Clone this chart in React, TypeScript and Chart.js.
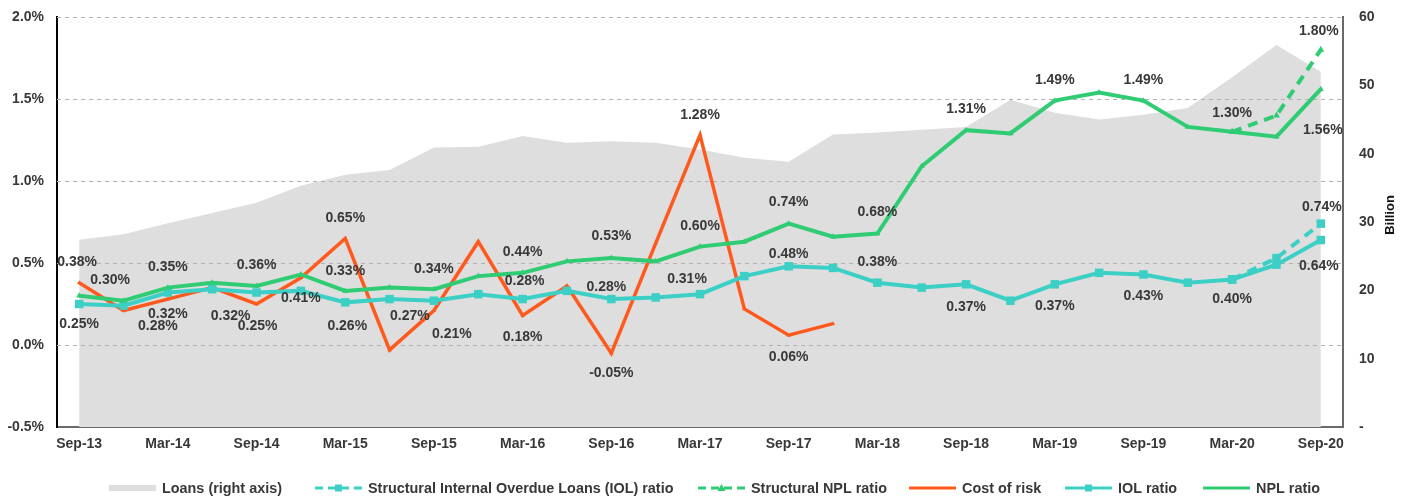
import React, { useEffect, useRef } from 'react';
import { Chart, registerables } from 'chart.js';

Chart.register(...registerables);

// ---------------- DATA ----------------
const quarters = [
  'Sep-13', 'Dec-13', 'Mar-14', 'Jun-14', 'Sep-14', 'Dec-14', 'Mar-15', 'Jun-15', 'Sep-15', 'Dec-15',
  'Mar-16', 'Jun-16', 'Sep-16', 'Dec-16', 'Mar-17', 'Jun-17', 'Sep-17', 'Dec-17', 'Mar-18', 'Jun-18',
  'Sep-18', 'Dec-18', 'Mar-19', 'Jun-19', 'Sep-19', 'Dec-19', 'Mar-20', 'Jun-20', 'Sep-20',
];

const shownTicks = [
  'Sep-13', 'Mar-14', 'Sep-14', 'Mar-15', 'Sep-15', 'Mar-16', 'Sep-16', 'Mar-17',
  'Sep-17', 'Mar-18', 'Sep-18', 'Mar-19', 'Sep-19', 'Mar-20', 'Sep-20',
];

// Loans, billion (right axis)
const loansBn = [
  27.4, 28.2, 29.8, 31.3, 32.8, 35.3, 36.9, 37.6, 40.9, 41.0,
  42.6, 41.6, 41.8, 41.6, 40.6, 39.4, 38.8, 42.8, 43.1, 43.5,
  43.9, 47.9, 46.0, 45.0, 45.7, 46.7, 51.2, 55.9, 52.0,
];

// NPL ratio, %
const nplRatio = [
  0.30, 0.27, 0.35, 0.38, 0.36, 0.43, 0.33, 0.35, 0.34, 0.42,
  0.44, 0.51, 0.53, 0.51, 0.60, 0.63, 0.74, 0.66, 0.68, 1.09,
  1.31, 1.29, 1.49, 1.54, 1.49, 1.33, 1.30, 1.27, 1.56,
];

// IOL ratio, %
const iolRatio = [
  0.25, 0.24, 0.32, 0.34, 0.32, 0.33, 0.26, 0.28, 0.27, 0.31,
  0.28, 0.33, 0.28, 0.29, 0.31, 0.42, 0.48, 0.47, 0.38, 0.35,
  0.37, 0.27, 0.37, 0.44, 0.43, 0.38, 0.40, 0.49, 0.64,
];

// Cost of risk, %
const costOfRisk = [
  0.38, 0.21, 0.28, 0.35, 0.25, 0.41, 0.65, -0.03, 0.21, 0.63,
  0.18, 0.36, -0.05, 0.62, 1.28, 0.22, 0.06, 0.13, null, null,
  null, null, null, null, null, null, null, null, null,
];

// Structural ratios, %
const structuralNpl = [
  null, null, null, null, null, null, null, null, null, null,
  null, null, null, null, null, null, null, null, null, null,
  null, null, null, null, null, null, 1.30, 1.40, 1.80,
];
const structuralIol = [
  null, null, null, null, null, null, null, null, null, null,
  null, null, null, null, null, null, null, null, null, null,
  null, null, null, null, null, null, 0.40, 0.53, 0.74,
];

const leftAxisTicks = [-0.5, 0, 0.5, 1.0, 1.5, 2.0];
const rightAxisTicks = [0, 10, 20, 30, 40, 50, 60];

// Indices that carry a value label, and label placement (dx, dy from the point)
const nplLabelAt = [0, 2, 4, 6, 8, 10, 12, 14, 16, 18, 20, 22, 24, 26, 28];
const nplLabelOffset = [
  [31, -16], [0, -20], [0, -21], [0, -20], [0, -20], [0, -21], [0, -22], [0, -20],
  [0, -21], [0, -21], [0, -21], [0, -20], [0, -20], [0, -19], [2, 41],
];
const iolLabelAt = [0, 2, 4, 6, 8, 10, 12, 14, 16, 18, 20, 22, 24, 26, 28];
const iolLabelOffset = [
  [0, 20], [0, 22], [-26, 24], [2, 24], [-24, 15], [2, -18], [-5, -12], [-13, -15],
  [0, -12], [0, -21], [0, 23], [0, 22], [0, 22], [0, 20], [-2, 26],
];
const corLabelAt = [0, 2, 4, 5, 6, 8, 10, 12, 14, 16];
const corLabelOffset = [
  [-2, -21], [-10, 27], [1, 22], [0, 20], [0, -20], [18, 24], [0, 22], [0, 20], [0, -20], [0, 22],
];
const sNplLabelAt = [28];
const sNplLabelOffset = [[-2, -19]];
const sIolLabelAt = [28];
const sIolLabelOffset = [[1, -16]];

// ---------------- STYLE ----------------
const GREEN = '#2fcc74';
const TEAL = '#3ccfc6';
const ORANGE = '#ff5a1e';
const GRAY_FILL = '#dedede';
const TEXT = '#383838';
const FONT = '"Liberation Sans", Arial, sans-serif';

const legendItems = [
  { text: 'Loans (right axis)', kind: 'area', color: GRAY_FILL, x: 109 },
  { text: 'Structural Internal Overdue Loans (IOL) ratio', kind: 'line', color: TEAL, dash: true, marker: 'rect', x: 315 },
  { text: 'Structural NPL ratio', kind: 'line', color: GREEN, dash: true, marker: 'tri', x: 698 },
  { text: 'Cost of risk', kind: 'line', color: ORANGE, dash: false, marker: null, x: 909 },
  { text: 'IOL ratio', kind: 'line', color: TEAL, dash: false, marker: 'rect', x: 1065 },
  { text: 'NPL ratio', kind: 'line', color: GREEN, dash: false, marker: null, x: 1203 },
];
const LEGEND_SWATCH_W = 47;

const fmtPct = (v: number) => v.toFixed(2) + '%';

const gridPlugin = {
  id: 'gridOverArea',
  afterDatasetDraw(chart: any, args: any) {
    if (args.index !== 0) return;
    const { ctx, chartArea } = chart;
    const y = chart.scales.y;
    ctx.save();
    ctx.strokeStyle = '#b2b2b2';
    ctx.lineWidth = 1;
    ctx.setLineDash([4, 4]);
    leftAxisTicks.forEach((t) => {
      if (t === leftAxisTicks[0]) return;
      const py = Math.round(y.getPixelForValue(t)) + 0.5;
      ctx.beginPath();
      ctx.moveTo(chartArea.left, py);
      ctx.lineTo(chartArea.right, py);
      ctx.stroke();
    });
    ctx.restore();
  },
};

const labelsPlugin = {
  id: 'valueLabels',
  afterDatasetsDraw(chart: any) {
    const { ctx } = chart;
    const groups = [
      { ds: 1, at: sIolLabelAt, off: sIolLabelOffset, values: structuralIol },
      { ds: 2, at: sNplLabelAt, off: sNplLabelOffset, values: structuralNpl },
      { ds: 3, at: corLabelAt, off: corLabelOffset, values: costOfRisk },
      { ds: 4, at: iolLabelAt, off: iolLabelOffset, values: iolRatio },
      { ds: 5, at: nplLabelAt, off: nplLabelOffset, values: nplRatio },
    ];
    ctx.save();
    ctx.font = `bold 14px ${FONT}`;
    ctx.fillStyle = TEXT;
    ctx.textAlign = 'center';
    ctx.textBaseline = 'middle';
    groups.forEach((g) => {
      const meta = chart.getDatasetMeta(g.ds);
      g.at.forEach((idx, k) => {
        const el = meta.data[idx];
        const v = g.values[idx];
        if (!el || v === null || v === undefined) return;
        ctx.fillText(fmtPct(v as number), el.x + g.off[k][0], el.y + g.off[k][1]);
      });
    });
    ctx.restore();
  },
};

const legendPlugin = {
  id: 'bottomLegend',
  afterDraw(chart: any) {
    const { ctx } = chart;
    const y = 488;
    ctx.save();
    legendItems.forEach((it) => {
      const w = LEGEND_SWATCH_W;
      if (it.kind === 'area') {
        ctx.fillStyle = it.color;
        ctx.fillRect(it.x, y - 3, w, 6);
      } else {
        ctx.strokeStyle = it.color;
        ctx.lineWidth = 3;
        ctx.setLineDash(it.dash ? [8, 5] : []);
        ctx.beginPath();
        ctx.moveTo(it.x, y);
        ctx.lineTo(it.x + w, y);
        ctx.stroke();
        ctx.setLineDash([]);
        const cx = it.x + w / 2;
        ctx.fillStyle = it.color;
        if (it.marker === 'rect') {
          ctx.fillRect(cx - 3.5, y - 3.5, 7, 7);
        } else if (it.marker === 'tri') {
          ctx.beginPath();
          ctx.moveTo(cx, y - 4);
          ctx.lineTo(cx + 4, y + 3);
          ctx.lineTo(cx - 4, y + 3);
          ctx.closePath();
          ctx.fill();
        }
      }
      ctx.font = `bold 14.4px ${FONT}`;
      ctx.fillStyle = TEXT;
      ctx.textAlign = 'left';
      ctx.textBaseline = 'middle';
      ctx.fillText(it.text, it.x + w + 6, y + 1);
    });
    // right axis title, reading bottom-to-top
    ctx.translate(1390, 215);
    ctx.rotate(-Math.PI / 2);
    ctx.font = `bold 13px ${FONT}`;
    ctx.textAlign = 'center';
    ctx.textBaseline = 'middle';
    ctx.fillStyle = '#111';
    ctx.fillText('Billion', 0, 0);
    ctx.restore();
  },
};

export default function App() {
  const canvasRef = useRef<HTMLCanvasElement | null>(null);

  useEffect(() => {
    document.body.style.margin = '0';
    const canvas = canvasRef.current;
    if (!canvas) return;
    const tickFont = { family: FONT, size: 14, weight: 'bold' as const };
    const hiddenTickGrid = (len: number) => ({
      display: true,
      drawOnChartArea: false,
      drawTicks: true,
      tickLength: len,
      color: 'rgba(0,0,0,0)',
    });

    const chart = new Chart(canvas, {
      type: 'line',
      data: {
        labels: quarters,
        datasets: [
          {
            label: 'Loans (right axis)',
            data: loansBn,
            yAxisID: 'y1',
            fill: 'origin',
            backgroundColor: GRAY_FILL,
            borderWidth: 0,
            borderColor: 'rgba(0,0,0,0)',
            pointRadius: 0,
            tension: 0,
            order: 10,
          },
          {
            label: 'Structural Internal Overdue Loans (IOL) ratio',
            data: structuralIol,
            yAxisID: 'y',
            borderColor: TEAL,
            backgroundColor: TEAL,
            borderWidth: 4,
            borderDash: [10, 7],
            pointStyle: 'rect',
            pointRadius: 6,
            pointBorderWidth: 0,
            fill: false,
            order: 5,
          },
          {
            label: 'Structural NPL ratio',
            data: structuralNpl,
            yAxisID: 'y',
            borderColor: GREEN,
            backgroundColor: GREEN,
            borderWidth: 4,
            borderDash: [10, 7],
            pointStyle: 'triangle',
            pointRadius: 4,
            pointBorderWidth: 0,
            fill: false,
            order: 4,
          },
          {
            label: 'Cost of risk',
            data: costOfRisk,
            yAxisID: 'y',
            borderColor: ORANGE,
            backgroundColor: ORANGE,
            borderWidth: 3.5,
            pointStyle: 'triangle',
            pointRadius: 2.5,
            pointBorderWidth: 0,
            fill: false,
            order: 3,
          },
          {
            label: 'IOL ratio',
            data: iolRatio,
            yAxisID: 'y',
            borderColor: TEAL,
            backgroundColor: TEAL,
            borderWidth: 4,
            pointStyle: 'rect',
            pointRadius: 6,
            pointBorderWidth: 0,
            fill: false,
            order: 2,
          },
          {
            label: 'NPL ratio',
            data: nplRatio,
            yAxisID: 'y',
            borderColor: GREEN,
            backgroundColor: GREEN,
            borderWidth: 4,
            pointStyle: 'triangle',
            pointRadius: 3.5,
            pointBorderWidth: 0,
            fill: false,
            order: 1,
          },
        ],
      },
      options: {
        responsive: false,
        animation: false,
        devicePixelRatio: 1,
        events: [],
        layout: { padding: { left: 0, right: 0, top: 17, bottom: 42 } },
        plugins: {
          legend: { display: false },
          tooltip: { enabled: false },
        },
        scales: {
          x: {
            type: 'category',
            offset: true,
            grid: { display: false, drawTicks: false },
            border: { display: true, color: '#6a6a6a', width: 2 },
            ticks: {
              autoSkip: false,
              maxRotation: 0,
              minRotation: 0,
              padding: 9,
              color: TEXT,
              font: tickFont,
              callback: (_v: any, i: number) => (shownTicks.includes(quarters[i]) ? quarters[i] : ''),
            },
            afterFit: (s: any) => { s.height = 30; },
          },
          y: {
            position: 'left',
            min: leftAxisTicks[0],
            max: leftAxisTicks[leftAxisTicks.length - 1],
            grid: hiddenTickGrid(13),
            border: { display: true, color: '#000', width: 2 },
            afterBuildTicks: (s: any) => { s.ticks = leftAxisTicks.map((v) => ({ value: v })); },
            ticks: {
              padding: 0,
              color: TEXT,
              font: tickFont,
              callback: (v: any) => Number(v).toFixed(1) + '%',
            },
            afterFit: (s: any) => { s.width = 57; },
          },
          y1: {
            position: 'right',
            min: rightAxisTicks[0],
            max: rightAxisTicks[rightAxisTicks.length - 1],
            grid: hiddenTickGrid(16),
            border: { display: true, color: '#6a6a6a', width: 2 },
            afterBuildTicks: (s: any) => { s.ticks = rightAxisTicks.map((v) => ({ value: v })); },
            ticks: {
              padding: 0,
              color: TEXT,
              font: tickFont,
              callback: (v: any) => (Number(v) === 0 ? '-' : String(v)),
            },
            afterFit: (s: any) => { s.width = 64; },
          },
        },
      } as any,
      plugins: [gridPlugin, labelsPlugin, legendPlugin],
    });

    return () => chart.destroy();
  }, []);

  return (
    <div style={{ width: 1407, height: 499, position: 'relative' }}>
      <canvas ref={canvasRef} width={1407} height={499} style={{ display: 'block' }} />
    </div>
  );
}
